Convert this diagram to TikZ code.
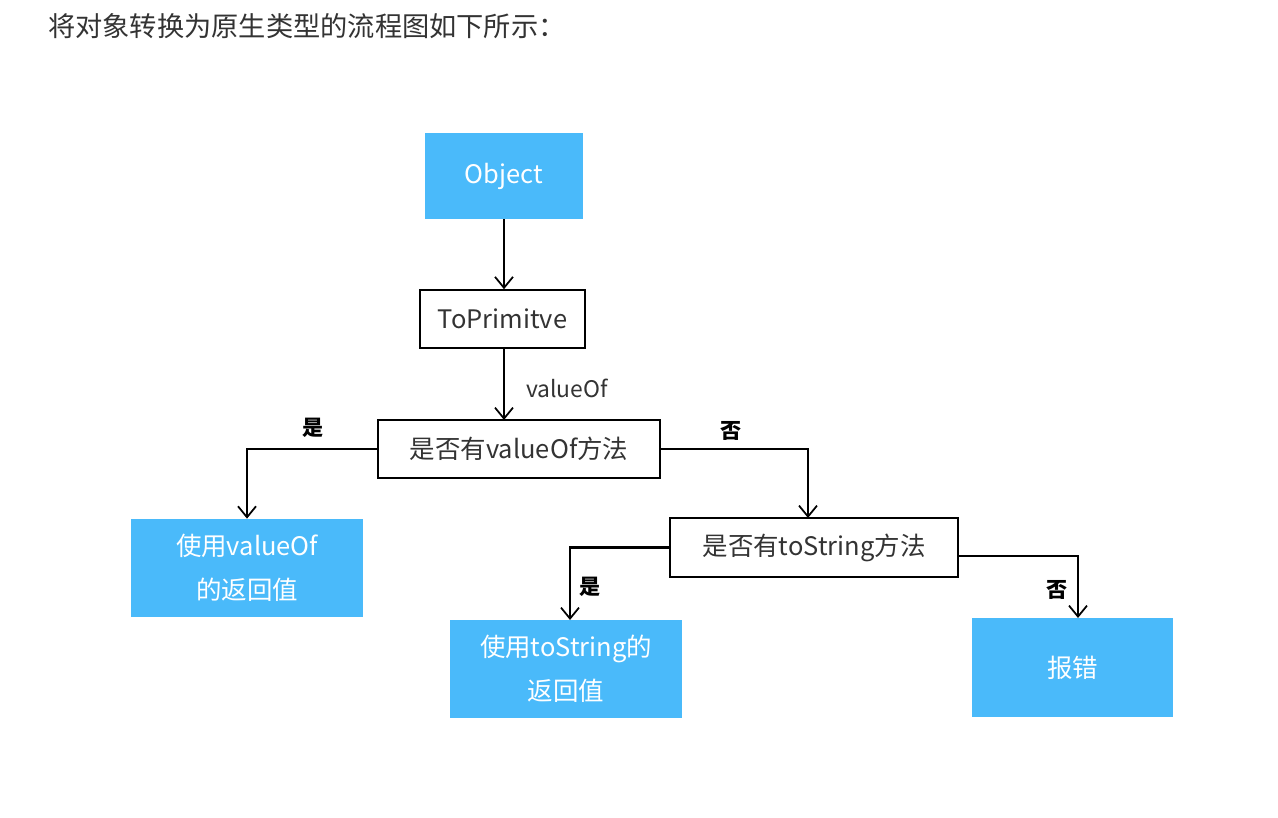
\documentclass[tikz,border=0pt]{standalone}
\usepackage{fontspec}
\setmainfont{Noto Sans CJK SC}
\usetikzlibrary{arrows.meta,calc}
\definecolor{boxblue}{RGB}{74,186,250}
\definecolor{headgray}{RGB}{51,51,51}
\tikzset{
  bluebox/.style={fill=boxblue, draw=none, text=white, inner sep=0pt, align=center, font=\fontsize{14.5}{25}\selectfont},
  whitebox/.style={draw=black, line width=0.9pt, fill=white, inner sep=0pt, align=center, font=\fontsize{14.5}{18}\selectfont, text=black!80},
  conn/.style={draw=black, line width=1.4pt, -{Straight Barb[length=2.2mm,width=3.6mm,line width=1pt]}},
  lbl/.style={font=\fontsize{12}{14}\selectfont\bfseries, text=black},
}
\begin{document}
\begin{tikzpicture}[x=0.02cm,y=-0.02cm]
\useasboundingbox (0,0) rectangle (1278,818);
\node[anchor=west, text=headgray, font=\fontsize{15.5}{18}\selectfont] (head) at (42,26) {将对象转换为原生类型的流程图如下所示：};

\node[bluebox, minimum width=3.16cm, minimum height=1.72cm] (obj) at (504,176) {Object};
\node[whitebox, minimum width=3.3cm, minimum height=1.16cm] (top) at (502.5,319) {ToPrimitve};
\node[whitebox, minimum width=5.64cm, minimum height=1.16cm] (q1) at (519,449) {是否有valueOf方法};
\node[bluebox, minimum width=4.64cm, minimum height=1.96cm] (r1) at (247,568) {使用valueOf\\的返回值};
\node[whitebox, minimum width=5.76cm, minimum height=1.18cm] (q2) at (814,547.5) {是否有toString方法};
\node[bluebox, minimum width=4.64cm, minimum height=1.96cm] (r2) at (566,669) {使用toString的\\返回值};
\node[bluebox, minimum width=4.02cm, minimum height=1.98cm] (r3) at (1072.5,667.5) {报错};

\coordinate (q1n) at (504,420);
\coordinate (q2n) at (808,518);
\coordinate (r2n) at (570,620);
\coordinate (r3n) at (1078,618);
\coordinate (q2e) at (958,556);

\draw[conn] (obj.south) -- (obj.south |- top.north);
\draw[conn] (obj.south |- top.south) -- (q1n);
\draw[conn] (q1.west) -| (r1.north);
\draw[conn] (q1.east) -| (q2n);
\draw[conn] (q2.west) -| (r2n);
\draw[conn] (q2e) -| (r3n);

\node[font=\fontsize{13}{14}\selectfont, text=black!80] (lv) at (567,388) {valueOf};
\node[lbl] (l1) at (313,428) {是};
\node[lbl] (l2) at (731,431) {否};
\node[lbl] (l3) at (590,587) {是};
\node[lbl] (l4) at (1057,590) {否};
\end{tikzpicture}
\end{document}
